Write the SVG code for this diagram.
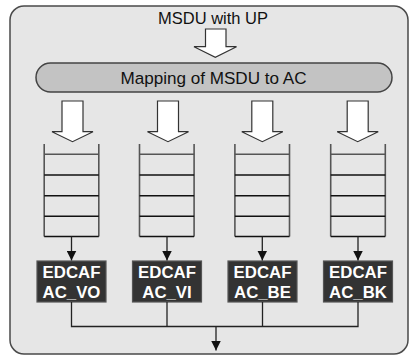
<svg xmlns="http://www.w3.org/2000/svg" width="410" height="356" viewBox="0 0 410 356">
<defs>
<style>
.bg{fill:#e6e6e6;stroke:#4a4a4a;stroke-width:1.5}
.pill{fill:#c3c3c3;stroke:#444;stroke-width:1.5}
.bigarrow{fill:#fff;stroke:#333;stroke-width:1.2;stroke-linejoin:miter}
.qv{stroke:#555;stroke-width:1.6;fill:none}
.qh{stroke:#111;stroke-width:1.4;fill:none}
.box{fill:#333;stroke:#555;stroke-width:1.2}
.boxt{font-family:"Liberation Sans",Arial,sans-serif;font-weight:bold;font-size:16.8px;fill:#fff;text-anchor:middle}
.lbl{font-family:"Liberation Sans",Arial,sans-serif;font-size:16.5px;fill:#111;text-anchor:middle}
.conn{stroke:#222;stroke-width:1.3;fill:none}
</style>
<marker id="ah" viewBox="0 0 10 10" refX="10" refY="5" markerWidth="10" markerHeight="10" markerUnits="userSpaceOnUse" orient="auto">
<path d="M0,0 L10,5 L0,10 z" fill="#111"/>
</marker>
<g id="queue">
<line class="qv" x1="-27.3" y1="144" x2="-27.3" y2="236.5"/>
<line class="qv" x1="27.3" y1="144" x2="27.3" y2="236.5"/>
<line class="qh" x1="-27.3" y1="154.3" x2="27.3" y2="154.3" style="stroke:#555"/>
<line class="qh" x1="-27.3" y1="175" x2="27.3" y2="175"/>
<line class="qh" x1="-27.3" y1="195.7" x2="27.3" y2="195.7"/>
<line class="qh" x1="-27.3" y1="216.3" x2="27.3" y2="216.3"/>
<line class="qh" x1="-27.3" y1="236.5" x2="27.3" y2="236.5"/>
</g>
<path id="smallarrow" class="bigarrow" d="M-10.5,101 H10.5 V131.7 H20.5 L0,141.7 L-20.5,131.7 H-10.5 Z"/>
</defs>

<rect id="frame" class="bg" x="10" y="6" width="398" height="348" rx="14" ry="14"/>

<g id="input">
<text class="lbl" x="213" y="24">MSDU with UP</text>
<path class="bigarrow" d="M205.5,29 H226 V46.7 H236.5 L215.3,57.3 L194,46.7 H205.5 Z"/>
</g>

<g id="mapping">
<rect class="pill" x="36" y="63" width="356" height="29" rx="14.5" ry="14.5"/>
<text class="lbl" x="213.5" y="83.5" style="font-size:17.1px">Mapping of MSDU to AC</text>
</g>

<g id="queue_vo">
<use href="#smallarrow" x="72.5"/>
<use href="#queue" x="71.5"/>
</g>
<g id="queue_vi">
<use href="#smallarrow" x="168"/>
<use href="#queue" x="166.8"/>
</g>
<g id="queue_be">
<use href="#smallarrow" x="262.3"/>
<use href="#queue" x="262.2"/>
</g>
<g id="queue_bk">
<use href="#smallarrow" x="357.7"/>
<use href="#queue" x="358"/>
</g>

<g id="edcaf_vo">
<rect class="box" x="37" y="261" width="69" height="41"/>
<text class="boxt" x="71.5" y="277.5">EDCAF</text>
<text class="boxt" x="71.5" y="297.5">AC_VO</text>
</g>
<g id="edcaf_vi">
<rect class="box" x="132.5" y="261" width="69" height="41"/>
<text class="boxt" x="167" y="277.5">EDCAF</text>
<text class="boxt" x="167" y="297.5">AC_VI</text>
</g>
<g id="edcaf_be">
<rect class="box" x="228" y="261" width="69" height="41"/>
<text class="boxt" x="262.5" y="277.5">EDCAF</text>
<text class="boxt" x="262.5" y="297.5">AC_BE</text>
</g>
<g id="edcaf_bk">
<rect class="box" x="323.5" y="261" width="69" height="41"/>
<text class="boxt" x="358" y="277.5">EDCAF</text>
<text class="boxt" x="358" y="297.5">AC_BK</text>
</g>

<g id="connectors">
<line class="conn" x1="71.5" y1="236.5" x2="71.5" y2="260.5" marker-end="url(#ah)"/>
<line class="conn" x1="167" y1="236.5" x2="167" y2="260.5" marker-end="url(#ah)"/>
<line class="conn" x1="262.3" y1="236.5" x2="262.3" y2="260.5" marker-end="url(#ah)"/>
<line class="conn" x1="358" y1="236.5" x2="358" y2="260.5" marker-end="url(#ah)"/>
<polyline class="conn" points="71.5,302 71.5,326.5 358,326.5 358,302"/>
<line class="conn" x1="167" y1="302" x2="167" y2="326.5"/>
<line class="conn" x1="262.5" y1="302" x2="262.5" y2="326.5"/>
<line class="conn" x1="216" y1="326.5" x2="216" y2="350.5" marker-end="url(#ah)"/>
</g>
</svg>
